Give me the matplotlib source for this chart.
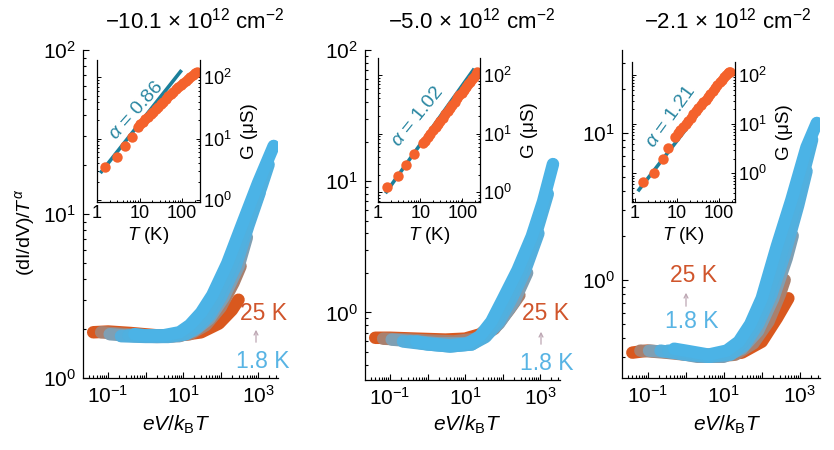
import matplotlib.pyplot as plt
import numpy as np
from matplotlib.patches import FancyArrowPatch
from matplotlib.ticker import LogLocator, FixedLocator, FuncFormatter, NullFormatter

plt.rcParams['font.family'] = ['Liberation Sans', 'DejaVu Sans']
plt.rcParams['mathtext.fontset'] = 'custom'
plt.rcParams['mathtext.rm'] = 'Liberation Sans'
plt.rcParams['mathtext.it'] = 'Liberation Sans:italic'
plt.rcParams['mathtext.bf'] = 'Liberation Sans:bold'
plt.rcParams['axes.linewidth'] = 0.9

# ---- data ----
densities = ['\u221210.1', '\u22125.0', '\u22122.1']
alphas = ['0.86', '1.02', '1.21']

# temperatures of the collapsed dI/dV curves, hot to cold (drawing order)
temps_K = [25, 14, 8, 4, 2.5, 1.8]
curve_colors = ['#d9581e', '#a9806e', '#7f9fb3', '#55aedc', '#50b0df', '#4bb3e6']

# n = -10.1e12 cm^-2 : x = eV/kBT, y = (dI/dV)/T^alpha
p1_x = [
    [0.04, 0.1, 0.4, 2, 8, 30, 90, 200, 300],
    [0.065, 0.3, 1, 5, 15, 40, 100, 220, 340],
    [0.11, 0.5, 2, 8, 20, 50, 120, 300, 500],
    [0.22, 1, 4, 12, 25, 50, 100, 250, 550, 1100],
    [0.35, 1, 3, 10, 20, 40, 80, 200, 500, 1200, 1900],
    [0.5, 1, 3, 8, 15, 30, 60, 150, 400, 1000, 2600],
]
p1_y = [
    [1.9, 1.92, 1.88, 1.82, 1.82, 1.9, 2.15, 2.6, 3.0],
    [1.9, 1.85, 1.82, 1.8, 1.85, 2.1, 2.7, 3.8, 4.8],
    [1.85, 1.8, 1.78, 1.8, 1.95, 2.3, 3.1, 4.8, 7.2],
    [1.8, 1.78, 1.78, 1.85, 2.05, 2.4, 3.1, 4.8, 8.5, 13.5],
    [1.82, 1.8, 1.8, 1.85, 2.05, 2.4, 3.1, 4.9, 8.5, 14.5, 20],
    [1.85, 1.82, 1.82, 1.9, 2.1, 2.5, 3.2, 5.0, 9.0, 15.5, 26],
]

# n = -5.0e12 cm^-2
p2_x = [
    [0.04, 0.1, 0.5, 3, 10, 25, 60, 120, 180],
    [0.065, 0.3, 1, 5, 20, 60, 150, 280],
    [0.11, 0.5, 2, 10, 30, 80, 200, 450],
    [0.22, 1, 4, 15, 35, 80, 180, 400, 900],
    [0.35, 1, 4, 15, 30, 60, 130, 300, 700, 1600],
    [0.5, 1, 4, 12, 25, 50, 100, 250, 600, 1200, 2200],
]
p2_y = [
    [0.64, 0.64, 0.63, 0.62, 0.63, 0.68, 0.82, 1.0, 1.2],
    [0.63, 0.62, 0.61, 0.6, 0.63, 0.75, 1.05, 1.35],
    [0.62, 0.6, 0.58, 0.58, 0.64, 0.82, 1.2, 2.0],
    [0.6, 0.57, 0.55, 0.57, 0.65, 0.85, 1.3, 2.1, 4.0],
    [0.6, 0.57, 0.55, 0.57, 0.65, 0.82, 1.2, 2.0, 3.6, 8.0],
    [0.6, 0.58, 0.56, 0.58, 0.66, 0.85, 1.25, 2.1, 3.8, 7.0, 13.5],
]

# n = -2.1e12 cm^-2
p3_x = [
    [0.04, 0.1, 0.5, 3, 10, 30, 100, 250, 500],
    [0.065, 0.3, 1, 5, 20, 60, 150, 300, 400],
    [0.11, 0.5, 2, 10, 30, 80, 200, 450, 650],
    [0.22, 1, 4, 15, 35, 80, 180, 400, 900, 1500],
    [0.35, 1, 4, 15, 30, 60, 130, 300, 700, 1600, 2100],
    [0.5, 1, 4, 12, 25, 50, 100, 250, 600, 1500, 2800],
]
p3_y = [
    [0.32, 0.33, 0.32, 0.31, 0.31, 0.32, 0.38, 0.55, 0.75],
    [0.33, 0.32, 0.31, 0.3, 0.31, 0.37, 0.52, 0.8, 1.0],
    [0.33, 0.32, 0.3, 0.3, 0.34, 0.45, 0.75, 1.4, 2.0],
    [0.33, 0.31, 0.3, 0.31, 0.36, 0.5, 0.8, 1.5, 3.2, 5.5],
    [0.33, 0.32, 0.3, 0.32, 0.37, 0.48, 0.72, 1.4, 3.0, 6.8, 9.0],
    [0.34, 0.33, 0.31, 0.33, 0.38, 0.5, 0.75, 1.7, 3.5, 8.0, 11.7],
]

# insets: zero-bias conductance G (uS) vs T (K) and power-law fit
p1_T_fit = [1.2, 98]
p1_G_fit = [2.75, 130]
p1_T = [1.55, 3.0, 4.6, 6.6, 9.2, 10.5, 12, 13.8, 16, 18.4, 21, 24, 27.5, 31.5, 36,
        41, 47, 54, 62, 71, 81, 93, 106, 121, 138, 158, 180, 205, 230]
p1_G = [3.4, 5.0, 7.5, 10.5, 15.5, 17.0, 18.5, 20.6, 22.8, 25.1, 27.5, 30.2, 33, 36.5, 40,
        44, 48.5, 53, 58, 63, 68, 74.5, 80.5, 87, 94, 102, 110, 117, 122]

p2_T_fit = [1.5, 190]
p2_G_fit = [0.96, 128]
p2_T = [1.66, 2.9, 4.6, 7.3, 11.5, 13, 15, 17, 20, 23, 26, 30, 34, 39, 45, 51, 58,
        66, 75, 85, 95, 108, 120, 135, 150, 167, 185, 205, 224]
p2_G = [1.23, 1.9, 2.9, 4.4, 6.8, 7.6, 8.7, 9.8, 11.5, 13, 14.5, 16.6, 18.8, 21.5, 24.5, 27.5, 31,
        35, 40, 45, 50, 56, 62, 69, 76, 84, 93, 103, 114]

p3_T_fit = [1.17, 204]
p3_G_fit = [0.43, 128]
p3_T = [1.58, 2.9, 4.6, 6.2, 9.0, 10.5, 12, 14, 16, 18.5, 21, 24.5, 28, 32, 37, 42, 48,
        55, 62, 71, 80, 92, 105, 120, 135, 148, 160, 172, 182]
p3_G = [0.67, 1.0, 2.0, 3.3, 5.6, 6.6, 7.6, 8.9, 10.2, 11.8, 13.6, 15.9, 18.3, 21, 24.5, 28, 31.6,
        36.5, 41.5, 48, 54, 62, 71, 81, 93, 101, 110, 114, 118]

# ---- layout (pixel boxes: left, top, right, bottom) ----
W, H = 834, 450
main_boxes = [(83, 50, 278, 378), (365, 50, 560, 380), (622, 50, 820, 378)]
main_ylims = [(1.0, 100), (0.305, 100), (0.215, 36.7)]
main_yticks = [[1, 10, 100], [1, 10, 100], [1, 10]]
inset_boxes = [(97, 60, 200, 202), (378, 58, 480, 202), (632, 62, 735, 202)]
inset_xlims = [(1.0, 265), (1.0, 260), (0.85, 240)]
inset_ylims = [(0.93, 190), (0.68, 195), (0.26, 185)]
title_pos = [(195, 21), (472, 21), (728, 21)]
xlabel_pos = [(176, 425), (467, 425), (727, 425)]
alpha_pos = [(136, 111, 48), (418, 117, 51), (671, 117, 54)]
hot_pos = [(263, 313), (546, 313), (694, 276)]
cold_pos = [(263, 362), (547, 363), (692, 322)]
arrow_x = [256, 541, 686]
arrow_y = [(345, 327), (347, 329), (309, 290)]

teal = '#1b7f9a'
inset_orange = '#f4622c'


def fig_rect(box):
    l, t, r, b = box
    return [l / W, 1 - b / H, (r - l) / W, (b - t) / H]


def fx(px):
    return px / W


def fy(py):
    return 1 - py / H


def decade_label(v, pos, show=None):
    e = int(round(np.log10(v)))
    if show is not None and e not in show:
        return ''
    return r'$\mathdefault{10^{%d}}$' % e


fig = plt.figure(figsize=(W / 100, H / 100), dpi=100)

panels = [(p1_x, p1_y), (p2_x, p2_y), (p3_x, p3_y)]
insets = [(p1_T_fit, p1_G_fit, p1_T, p1_G),
          (p2_T_fit, p2_G_fit, p2_T, p2_G),
          (p3_T_fit, p3_G_fit, p3_T, p3_G)]

for i in range(3):
    ax = fig.add_axes(fig_rect(main_boxes[i]))
    xs, ys = panels[i]
    for x, y, c in zip(xs, ys, curve_colors):
        ax.plot(x, y, color=c, lw=9, solid_capstyle='round', solid_joinstyle='round')
    ax.set_xscale('log')
    ax.set_yscale('log')
    ax.set_xlim(10 ** -1.67, 10 ** 3.53)
    ax.set_ylim(*main_ylims[i])
    ax.spines['top'].set_visible(False)
    ax.spines['right'].set_visible(False)
    ax.xaxis.set_major_locator(FixedLocator([0.1, 1, 10, 100, 1000]))
    ax.xaxis.set_major_formatter(FuncFormatter(lambda v, p: decade_label(v, p, show=(-1, 1, 3))))
    ax.xaxis.set_minor_locator(LogLocator(base=10, subs=np.arange(2, 10), numticks=50))
    ax.xaxis.set_minor_formatter(NullFormatter())
    ax.yaxis.set_major_locator(FixedLocator(main_yticks[i]))
    ax.yaxis.set_major_formatter(FuncFormatter(decade_label))
    ax.yaxis.set_minor_locator(LogLocator(base=10, subs=np.arange(2, 10), numticks=50))
    ax.yaxis.set_minor_formatter(NullFormatter())
    ax.tick_params(which='both', direction='in', width=0.8, labelsize=15, pad=5)
    ax.tick_params(which='major', length=4)
    ax.tick_params(which='minor', length=2)

    # temperature labels
    fig.text(fx(hot_pos[i][0]), fy(hot_pos[i][1]), '25 K', color='#d0552c',
             fontsize=16.5, ha='center', va='center')
    fig.text(fx(cold_pos[i][0]), fy(cold_pos[i][1]), '1.8 K', color='#58b4e4',
             fontsize=16.5, ha='center', va='center')
    fig.patches.append(FancyArrowPatch(
        (fx(arrow_x[i]), fy(arrow_y[i][0])), (fx(arrow_x[i]), fy(arrow_y[i][1])),
        transform=fig.transFigure, arrowstyle='->', mutation_scale=7,
        color='#bda7b3', lw=0.9))

    fig.text(fx(title_pos[i][0]), fy(title_pos[i][1]),
             densities[i] + r' $\times$ 10$^{12}$ cm$^{\mathdefault{-2}}$',
             fontsize=16, ha='center', va='center')
    fig.text(fx(xlabel_pos[i][0]), fy(xlabel_pos[i][1]), r'$eV/k_{\mathrm{B}}T$',
             fontsize=15, ha='center', va='center')

    # inset
    axi = fig.add_axes(fig_rect(inset_boxes[i]))
    T_fit, G_fit, T, G = insets[i]
    axi.plot(T_fit, G_fit, color=teal, lw=2.6, solid_capstyle='butt')
    axi.plot(T, G, 'o', color=inset_orange, ms=7.5, mec='none')
    axi.set_xscale('log')
    axi.set_yscale('log')
    axi.set_xlim(*inset_xlims[i])
    axi.set_ylim(*inset_ylims[i])
    axi.spines['top'].set_visible(False)
    axi.patch.set_alpha(0)
    axi.xaxis.set_major_locator(FixedLocator([1, 10, 100]))
    axi.xaxis.set_major_formatter(FuncFormatter(lambda v, p: '%d' % round(v)))
    axi.xaxis.set_minor_locator(LogLocator(base=10, subs=np.arange(2, 10), numticks=50))
    axi.xaxis.set_minor_formatter(NullFormatter())
    axi.yaxis.set_major_locator(FixedLocator([1, 10, 100]))
    axi.yaxis.set_major_formatter(FuncFormatter(decade_label))
    axi.yaxis.set_minor_locator(LogLocator(base=10, subs=np.arange(2, 10), numticks=50))
    axi.yaxis.set_minor_formatter(NullFormatter())
    axi.tick_params(which='both', direction='in', width=0.7, labelsize=13, pad=2)
    axi.tick_params(axis='y', which='both', left=True, right=True,
                    labelleft=False, labelright=True)
    axi.tick_params(which='major', length=3)
    axi.tick_params(which='minor', length=1.5)
    axi.set_xlabel(r'$T$ (K)', fontsize=13.5, labelpad=2.5)
    axi.yaxis.set_label_position('right')
    axi.set_ylabel('G (\u03bcS)', fontsize=13.5, rotation=90, labelpad=7)

    ax_x, ax_y, rot = alpha_pos[i]
    fig.text(fx(ax_x), fy(ax_y), r'$\alpha$ = ' + alphas[i], color='#2a87a2',
             fontsize=14, ha='center', va='center', rotation=rot,
             rotation_mode='anchor')

fig.text(fx(25), fy(232), r'(dI/dV)/$T^{\alpha}$', fontsize=14, rotation=90,
         ha='center', va='center')

fig.savefig('out.png', dpi=100)
